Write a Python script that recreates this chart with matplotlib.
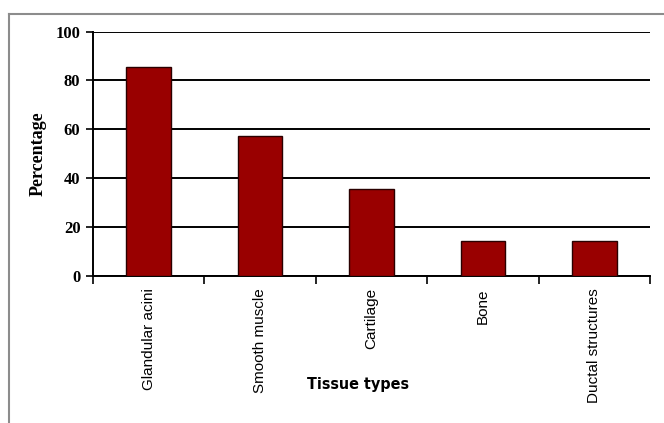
import matplotlib
matplotlib.use("Agg")
import matplotlib.pyplot as plt
from matplotlib.lines import Line2D

categories = ["Glandular acini", "Smooth muscle", "Cartilage", "Bone", "Ductal structures"]
percentages = [85.7, 57.1, 35.7, 14.3, 14.3]
yticks = [0, 20, 40, 60, 80, 100]

fig = plt.figure(figsize=(6.64, 4.23), dpi=100)
W, H = 664, 423
ax = fig.add_axes([93 / W, 1 - 275.7 / H, (650 - 93) / W, (275.7 - 31.7) / H])

x = list(range(len(categories)))
ax.bar(x, percentages, width=0.4, color="#990000", edgecolor="#2a0000", linewidth=1.0, zorder=3)

ax.set_xlim(-0.5, len(categories) - 0.5)
ax.set_ylim(0, 100)
ax.set_yticks(yticks)
ax.set_yticklabels([str(v) for v in yticks], fontfamily="Liberation Serif",
                   fontweight="bold", fontsize=12)
ax.yaxis.grid(True, color="black", linewidth=1.4, zorder=0)
ax.tick_params(axis="y", length=5, width=1.2, direction="out", pad=4)

# ticks at category boundaries, labels at centres
ax.set_xticks([i - 0.5 for i in range(len(categories) + 1)])
ax.set_xticklabels([])
ax.set_xticks(x, minor=True)
ax.set_xticklabels(categories, minor=True, rotation=90, fontfamily="Liberation Sans",
                   fontsize=11)
ax.tick_params(axis="x", which="major", length=6, width=1.2, direction="out")
ax.tick_params(axis="x", which="minor", length=0, pad=9)

for s in ["top", "right"]:
    ax.spines[s].set_visible(False)
for s in ["left", "bottom"]:
    ax.spines[s].set_linewidth(1.4)
    ax.spines[s].set_color("black")

ax.set_ylabel("Percentage", fontfamily="Liberation Serif", fontweight="bold", fontsize=13)
ax.yaxis.set_label_coords(-46 / (650 - 93), 0.5)
fig.text(358 / W, 1 - 384 / H, "Tissue types", ha="center", va="center",
         fontfamily="DejaVu Sans", fontstretch="condensed", fontweight="bold", fontsize=11.5)

# outer frame (top and left edges visible)
fig.add_artist(Line2D([9 / W, 9 / W], [0, 1 - 14 / H], transform=fig.transFigure,
                      color="#8c8c8c", linewidth=1.5))
fig.add_artist(Line2D([9 / W, 1], [1 - 14 / H, 1 - 14 / H], transform=fig.transFigure,
                      color="#8c8c8c", linewidth=1.5))

fig.savefig("out.png", dpi=100)
